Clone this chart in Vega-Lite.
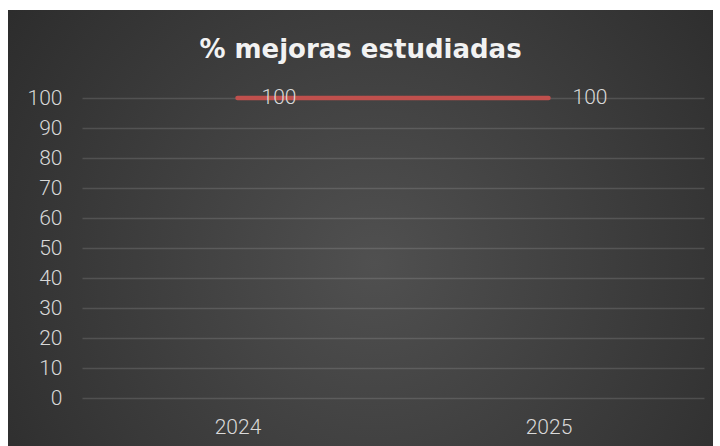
{
  "$schema": "https://vega.github.io/schema/vega-lite/v6.json",
  "width": 705,
  "height": 436,
  "autosize": {"type": "none"},
  "padding": {"left": 8, "top": 10, "right": 7, "bottom": 0},
  "background": "#ffffff",
  "view": {
    "stroke": null,
    "fill": {
      "gradient": "radial",
      "x1": 0.52, "y1": 0.55, "r1": 0,
      "x2": 0.52, "y2": 0.55, "r2": 0.75,
      "stops": [
        {"offset": 0, "color": "#505050"},
        {"offset": 1, "color": "#262626"}
      ]
    }
  },
  "title": {
    "text": "% mejoras estudiadas",
    "font": "DejaVu Sans",
    "fontSize": 26,
    "fontWeight": "bold",
    "color": "#f2f2f2",
    "anchor": "middle",
    "offset": -53
  },
  "data": {
    "values": [
      {"year": "2024", "pct": 100},
      {"year": "2025", "pct": 100}
    ]
  },
  "encoding": {
    "x": {
      "field": "year",
      "type": "ordinal",
      "scale": {"type": "point", "range": [74, 696], "padding": 0.5},
      "axis": {
        "title": null,
        "orient": "bottom",
        "offset": -32,
        "ticks": false,
        "tickSize": 0,
        "domain": false,
        "grid": false,
        "labelAngle": 0,
        "labelPadding": 2,
        "labelFont": "Roboto",
        "labelFontWeight": 300,
        "labelFontSize": 21,
        "labelColor": "#d9d9d9"
      }
    },
    "y": {
      "field": "pct",
      "type": "quantitative",
      "scale": {"domain": [0, 100], "range": [388, 88], "nice": false, "zero": false},
      "axis": {
        "title": null,
        "values": [0, 10, 20, 30, 40, 50, 60, 70, 80, 90, 100],
        "offset": -56,
        "ticks": false,
        "tickSize": 0,
        "domain": false,
        "grid": true,
        "gridColor": "#ffffff",
        "gridOpacity": 0.13,
        "gridWidth": 1.3,
        "labelPadding": 2,
        "labelFont": "Roboto",
        "labelFontWeight": 300,
        "labelFontSize": 21,
        "labelColor": "#d9d9d9"
      }
    }
  },
  "layer": [
    {
      "mark": {"type": "line", "color": "#c0504d", "strokeWidth": 4.5, "strokeCap": "round"}
    },
    {
      "mark": {
        "type": "text",
        "align": "left",
        "baseline": "middle",
        "dx": 24,
        "font": "Roboto",
        "fontWeight": 300,
        "fontSize": 21,
        "color": "#d9d9d9"
      },
      "encoding": {"text": {"field": "pct", "type": "quantitative"}}
    }
  ]
}
